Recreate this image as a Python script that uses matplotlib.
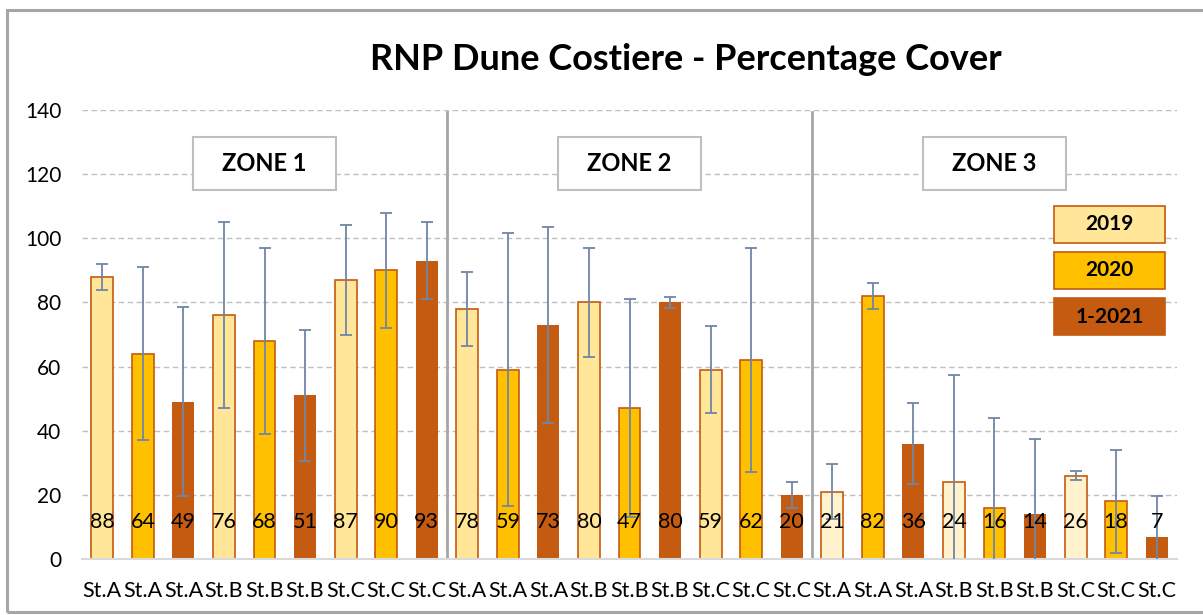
import matplotlib
matplotlib.use('Agg')
import matplotlib.pyplot as plt
from matplotlib.patches import Rectangle
import numpy as np

plt.rcParams['font.family'] = ['Lato', 'DejaVu Sans']

# ---------------- data ----------------
title = 'RNP Dune Costiere - Percentage Cover'
zones = ['ZONE 1', 'ZONE 2', 'ZONE 3']
years = ['2019', '2020', '1-2021']
station_labels = ['St.A', 'St.A', 'St.A', 'St.B', 'St.B', 'St.B', 'St.C', 'St.C', 'St.C']

zone1_values = [88, 64, 49, 76, 68, 51, 87, 90, 93]
zone2_values = [78, 59, 73, 80, 47, 80, 59, 62, 20]
zone3_values = [21, 82, 36, 24, 16, 14, 26, 18, 7]

zone1_err = [4, 27, 29.5, 29, 29, 20.5, 17, 18, 12]
zone2_err = [11.5, 42.5, 30.5, 17, 34, 1.7, 13.5, 35, 4]
zone3_err = [8.5, 4, 12.5, 33.5, 28, 23.5, 1.3, 16, 12.5]

yticks = [0, 20, 40, 60, 80, 100, 120, 140]

# ---------------- style ----------------
fill_colors = {'2019': '#FFE699', '2020': '#FFC000', '1-2021': '#C55A11'}
zone3_2019_fill = '#FFF2CC'
edge_color = '#C55A11'
err_color = '#6F86A6'

values = zone1_values + zone2_values + zone3_values
errs = zone1_err + zone2_err + zone3_err
xlabels = station_labels * 3
n = len(values)
x = np.arange(n)

fills, edges, lws = [], [], []
for i in range(n):
    yr = years[i % 3]
    z = i // 9
    c = fill_colors[yr]
    if z == 2 and yr == '2019':
        c = zone3_2019_fill
    fills.append(c)
    edges.append(edge_color)
    lws.append(1.2 if yr != '1-2021' else 0.0)

fig = plt.figure(figsize=(12.03, 6.15), dpi=100)
ax = fig.add_axes([82 / 1203, 56 / 615, 1095 / 1203, 449 / 615])

# grid
for t in yticks[1:]:
    ax.axhline(t, color='#BFBFBF', lw=1.0, ls=(0, (4, 2.5)), zorder=0)

ax.bar(x, values, width=0.54, color=fills, edgecolor=edges, linewidth=lws, zorder=2)
ax.errorbar(x, values, yerr=errs, fmt='none', ecolor=err_color, elinewidth=1.3,
            capsize=4, capthick=1.3, zorder=4)

for xi, v in zip(x, values):
    ax.text(xi, 11.5, f'{v}', ha='center', va='center', fontsize=15.5, color='black', zorder=5)

# zone separators
for sep in [8.5, 17.5]:
    ax.axvline(sep, ymin=0, ymax=0.995, color='#A6A6A6', lw=2.0, zorder=1)

# zone boxes
for zi, zname in enumerate(zones):
    cx = zi * 9 + 4
    ax.add_patch(Rectangle((cx - 1.77, 115.1), 3.54, 16.6, facecolor='white',
                           edgecolor='#BFBFBF', lw=1.5, zorder=6))
    ax.text(cx, 123.4, zname, ha='center', va='center', fontsize=17,
            fontweight='bold', zorder=7)

# legend boxes (axes fraction)
leg_tops = [0.786, 0.684, 0.581]
for yr, top in zip(years, leg_tops):
    ec = edge_color if yr != '1-2021' else fill_colors[yr]
    ax.add_patch(Rectangle((0.8877, top - 0.082), 0.1013, 0.082, transform=ax.transAxes,
                           facecolor=fill_colors[yr], edgecolor=ec, lw=1.2, zorder=6))
    ax.text(0.8877 + 0.1013 / 2, top - 0.041, yr, transform=ax.transAxes, ha='center',
            va='center', fontsize=15, fontweight='bold', zorder=7)

ax.set_xlim(-0.5, n - 0.5)
ax.set_ylim(0, 140)
ax.set_yticks(yticks)
ax.set_yticklabels([str(t) for t in yticks], fontsize=15)
ax.set_xticks(x)
ax.set_xticklabels(xlabels, fontsize=15.5)
ax.tick_params(axis='y', length=0, pad=15)
ax.tick_params(axis='x', length=0, pad=16)
for s in ['top', 'right', 'left']:
    ax.spines[s].set_visible(False)
ax.spines['bottom'].set_color('#D9D9D9')
ax.spines['bottom'].set_linewidth(1.5)
ax.spines['bottom'].set_zorder(3)

fig.text(686 / 1203, 1 - 60 / 615, title, ha='center', va='center', fontsize=26,
         fontweight='bold')

# outer border
fig.patches.append(Rectangle((7 / 1203, 3 / 615), 1.05, 1 - 13 / 615, transform=fig.transFigure,
                             fill=False, edgecolor='#A6A6A6', lw=2.2, figure=fig))

fig.savefig('out.png', dpi=100)
